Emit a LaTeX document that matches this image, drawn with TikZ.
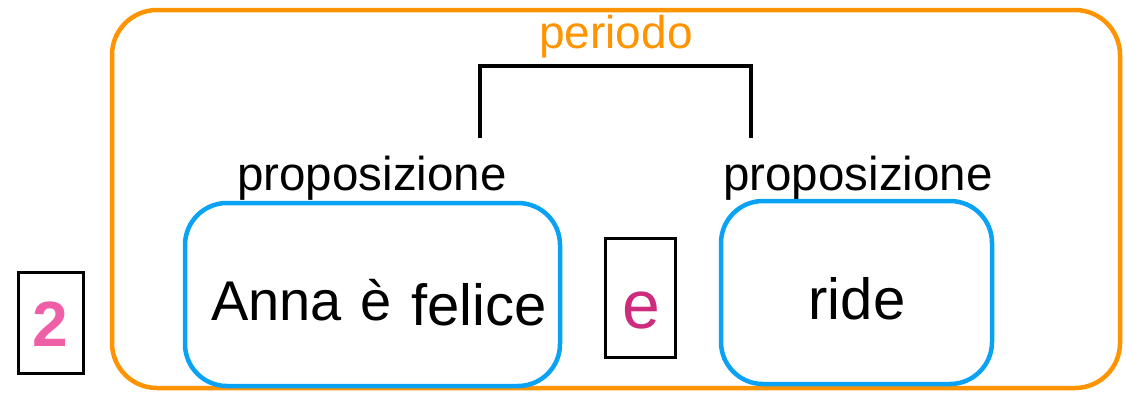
\documentclass[tikz,border=0pt]{standalone}
\usepackage{fontspec}
\setmainfont{Liberation Sans}
\definecolor{orng}{HTML}{FF9300}
\definecolor{blu}{HTML}{0AA2F5}
\definecolor{mgnt}{HTML}{CC2B7E}
\definecolor{pnk}{HTML}{EE5FA8}
\tikzset{
  frame/.style={draw=orng,line width=4.5pt,rounded corners=45pt},
  clause/.style={draw=blu,line width=4.5pt,rounded corners=42pt},
  thinbox/.style={draw=black,line width=3pt},
  lbl/.style={anchor=base,inner sep=0pt,font=\fontsize{47.5}{50}\selectfont},
  word/.style={anchor=base,inner sep=0pt,font=\fontsize{56}{60}\selectfont},
}
\begin{document}
\begin{tikzpicture}[x=1pt,y=-1pt]
\useasboundingbox (0,0) rectangle (1126,392);
% outer frame
\draw[frame] (112,10) rectangle (1120,388);
\node[anchor=base,inner sep=0pt,text=orng,font=\fontsize{46}{48}\selectfont] (periodo) at (616,48) {periodo};
% bracket
\coordinate (bl) at (480,138);
\coordinate (br) at (751,138);
\draw[line width=4.5pt] (bl) -- (480,66) -- (751,66) -- (br);
% labels
\node[lbl] (p1) at (372,190) {proposizione};
\node[lbl] (p2) at (858,190) {proposizione};
% clause boxes
\draw[clause] (185,203) rectangle (560,386);
\draw[clause] (721,201) rectangle (992,384);
\node[word,anchor=base west] (anna) at (211,320) {Anna};
\node[word,anchor=base west] (egrave) at (360,320) {è};
\node[word,anchor=base west,font=\fontsize{58}{60}\selectfont] (felice) at (411,325) {felice};
\node[word,font=\fontsize{58}{60}\selectfont] (ride) at (857,319) {ride};
% conjunction
\draw[thinbox] (605,238) rectangle (675,357);
\node[anchor=base,inner sep=0pt,text=mgnt,font=\fontsize{68}{70}\selectfont] (conj) at (641,328) {e};
% number
\draw[thinbox] (18,272) rectangle (83,373);
\node[anchor=base,inner sep=0pt,text=pnk,font=\bfseries\fontsize{64}{66}\selectfont] (num) at (50,346) {2};
\end{tikzpicture}
\end{document}
